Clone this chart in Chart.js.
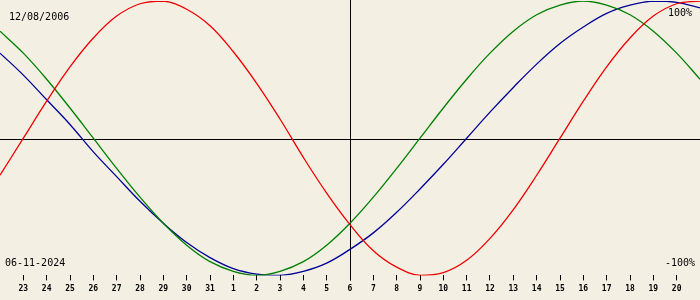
<!DOCTYPE html>
<html>
<head>
<meta charset="utf-8">
<script src="https://cdn.jsdelivr.net/npm/chart.js@4"></script>
<style>
  html, body { margin: 0; padding: 0; background: #f3efe3; }
  #wrap { width: 700px; height: 300px; position: relative; }
</style>
</head>
<body>
<div id="wrap"><canvas id="bio"></canvas></div>
<script>
// day of month for each column, Oct 22 .. Nov 21 2024
var days = [22, 23, 24, 25, 26, 27, 28, 29, 30, 31, 1, 2, 3, 4, 5, 6, 7, 8, 9, 10, 11, 12, 13, 14, 15, 16, 17, 18, 19, 20, 21];
// percent values per day
var physical = [-27, 0, 27, 52, 73, 89, 98, 100, 94, 82, 63, 40, 14, -14, -40, -63, -82, -94, -100, -98, -89, -73, -52, -27, 0, 27, 52, 73, 89, 98, 100];
var emotional = [78, 62, 43, 22, 0, -22, -43, -62, -78, -90, -97, -100, -97, -90, -78, -62, -43, -22, 0, 22, 43, 62, 78, 90, 97, 100, 97, 90, 78, 62, 43];
var intellectual = [62, 46, 28, 10, -10, -28, -46, -62, -76, -87, -95, -99, -100, -97, -91, -81, -69, -54, -37, -19, 0, 19, 37, 54, 69, 81, 91, 97, 100, 99, 95];
var birthLabel = '12/08/2006';
var dateLabel = '06-11-2024';
var todayIndex = 15;

function pts(arr) {
    return arr.map(function (v, i) { return { x: i, y: v }; });
}

var txtFont = '10px "DejaVu Sans Mono", monospace';

// cross lines and corner texts
var decor = {
    id: 'decor',
    beforeDatasetsDraw: function (chart) {
        var c = chart.ctx, a = chart.chartArea;
        var xs = chart.scales.x, ys = chart.scales.y;
        var px = Math.round(xs.getPixelForValue(todayIndex)) + 0.5;
        var py = Math.round(ys.getPixelForValue(0)) + 1.5;
        c.save();
        c.strokeStyle = '#000';
        c.lineWidth = 1;
        c.beginPath();
        c.moveTo(a.left, py); c.lineTo(a.right, py);
        c.moveTo(px, 0); c.lineTo(px, a.bottom + 5);
        c.stroke();
        c.restore();
    },
    afterDraw: function (chart) {
        var c = chart.ctx;
        c.save();
        c.fillStyle = '#000';
        c.font = txtFont;
        c.textBaseline = 'middle';
        c.textAlign = 'left';
        c.fillText(birthLabel, 9, 17);
        c.fillText(dateLabel, 5, 263);
        c.textAlign = 'right';
        c.fillText('100%', 692, 13);
        c.fillText('-100%', 695, 263);
        c.restore();
    }
};

var config = {
    type: 'line',
    data: {
        datasets: [
            { label: 'physical', data: pts(physical), borderColor: '#f00000' },
            { label: 'emotional', data: pts(emotional), borderColor: '#008000' },
            { label: 'intellectual', data: pts(intellectual), borderColor: '#000098' }
        ]
    },
    options: {
        responsive: false,
        animation: false,
        devicePixelRatio: 1,
        layout: { padding: { top: 1, bottom: 2, left: 0, right: 0 } },
        elements: {
            point: { radius: 0 },
            line: { borderWidth: 1.3, tension: 0.4, fill: false }
        },
        plugins: {
            legend: { display: false },
            tooltip: { enabled: false },
            title: { display: false }
        },
        scales: {
            x: {
                type: 'linear',
                min: 0,
                max: 30,
                afterBuildTicks: function (axis) {
                    var t = [];
                    for (var i = 1; i < days.length - 1; i++) t.push({ value: i });
                    axis.ticks = t;
                },
                ticks: {
                    autoSkip: false,
                    maxRotation: 0,
                    padding: 4,
                    color: '#000',
                    font: { family: '"DejaVu Sans Mono", monospace', size: 8, weight: 'bold' },
                    callback: function (v) { return String(days[v]); }
                },
                grid: { drawOnChartArea: false, drawTicks: true, tickLength: 5, color: '#000' },
                border: { display: false }
            },
            y: {
                display: false,
                min: -100,
                max: 100
            }
        }
    },
    plugins: [decor]
};

var cv = document.getElementById('bio');
cv.width = 700;
cv.height = 300;
var myChart = new Chart(cv, config);
</script>
</body>
</html>
